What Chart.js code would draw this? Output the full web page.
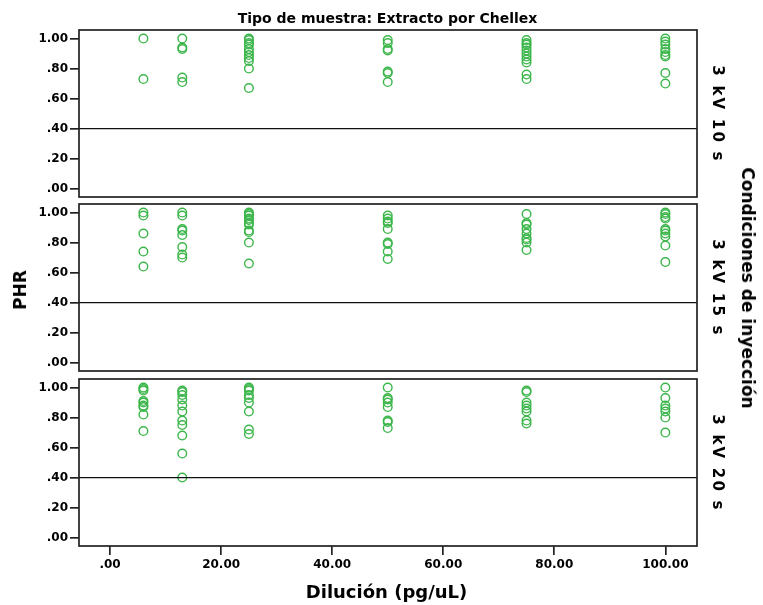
<!DOCTYPE html>
<html>
<head>
<meta charset="utf-8">
<script src="https://cdn.jsdelivr.net/npm/chart.js@4/dist/chart.umd.min.js"></script>
<style>
  html, body { margin: 0; padding: 0; background: #fff; }
  #wrap { position: relative; width: 763px; height: 605px; overflow: hidden; background: #fff; }
  #wrap canvas { position: absolute; left: 0; top: 0; }
  .lbl { position: absolute; font-family: "DejaVu Sans", sans-serif; font-weight: bold; color: #000; white-space: nowrap; transform-origin: center center; }
</style>
</head>
<body>
<div id="wrap">
  <canvas id="c1" width="763" height="605" style="width:763px;height:605px"></canvas>
  <canvas id="c2" width="763" height="605" style="width:763px;height:605px"></canvas>
  <canvas id="c3" width="763" height="605" style="width:763px;height:605px"></canvas>
  <div class="lbl" id="title" style="font-size:14px;left:387.5px;top:18px;transform:translate(-50%,-50%);">Tipo de muestra: Extracto por Chellex</div>
  <div class="lbl" id="ylab" style="font-size:17px;left:20px;top:290px;transform:translate(-50%,-50%) rotate(-90deg);">PHR</div>
  <div class="lbl" id="xlab" style="font-size:18px;left:386.5px;top:591px;transform:translate(-50%,-50%);">Dilución (pg/uL)</div>
  <div class="lbl" id="facet" style="font-size:17px;left:748px;top:288px;transform:translate(-50%,-50%) rotate(90deg);">Condiciones de inyección</div>
  <div class="lbl" id="s1" style="font-size:15px;letter-spacing:2.2px;left:718px;top:114px;transform:translate(-50%,-50%) rotate(90deg);">3 kV 10 s</div>
  <div class="lbl" id="s2" style="font-size:15px;letter-spacing:2.2px;left:718px;top:288px;transform:translate(-50%,-50%) rotate(90deg);">3 kV 15 s</div>
  <div class="lbl" id="s3" style="font-size:15px;letter-spacing:2.2px;left:718px;top:463px;transform:translate(-50%,-50%) rotate(90deg);">3 kV 20 s</div>
</div>
<script>
// ---- Data ----
const dilutions = [6, 13, 25, 50, 75, 100];
const panelLabels = ["3 kV 10 s", "3 kV 15 s", "3 kV 20 s"];

// PHR values per dilution (same order as dilutions)
const phr10s = [
  [1.00, 0.73],
  [1.00, 0.94, 0.93, 0.74, 0.71],
  [1.00, 0.99, 0.97, 0.96, 0.93, 0.91, 0.89, 0.87, 0.85, 0.80, 0.67],
  [0.99, 0.97, 0.93, 0.92, 0.78, 0.77, 0.71],
  [0.99, 0.97, 0.96, 0.94, 0.92, 0.90, 0.88, 0.86, 0.84, 0.76, 0.73],
  [1.00, 0.98, 0.96, 0.93, 0.91, 0.89, 0.88, 0.77, 0.70]
];
const phr15s = [
  [1.00, 0.98, 0.86, 0.74, 0.64],
  [1.00, 0.98, 0.89, 0.88, 0.85, 0.77, 0.72, 0.70],
  [1.00, 0.99, 0.98, 0.96, 0.95, 0.93, 0.92, 0.88, 0.87, 0.80, 0.66],
  [0.98, 0.96, 0.94, 0.93, 0.89, 0.80, 0.79, 0.74, 0.69],
  [0.99, 0.93, 0.92, 0.89, 0.86, 0.83, 0.82, 0.80, 0.75],
  [1.00, 0.99, 0.97, 0.96, 0.89, 0.88, 0.86, 0.84, 0.78, 0.67]
];
const phr20s = [
  [1.00, 0.99, 0.98, 0.91, 0.90, 0.88, 0.87, 0.82, 0.71],
  [0.98, 0.97, 0.95, 0.92, 0.88, 0.84, 0.78, 0.75, 0.68, 0.56, 0.40],
  [1.00, 0.99, 0.98, 0.95, 0.93, 0.90, 0.84, 0.72, 0.69],
  [1.00, 0.93, 0.92, 0.90, 0.87, 0.78, 0.77, 0.73],
  [0.98, 0.97, 0.90, 0.88, 0.86, 0.84, 0.78, 0.76],
  [1.00, 0.93, 0.88, 0.86, 0.84, 0.80, 0.70]
];

const xTickValues = [0, 20, 40, 60, 80, 100];
const yTickValues = [0, 0.2, 0.4, 0.6, 0.8, 1.0];
const referenceLine = 0.40;

// ---- Layout / style ----
const W = 763, H = 605;
const plotLeft = 79, plotRight = 697;
const panels = [
  { id: "c1", values: phr10s, top: 30, bottom: 197, showX: false },
  { id: "c2", values: phr15s, top: 204, bottom: 371, showX: false },
  { id: "c3", values: phr20s, top: 379, bottom: 546, showX: true }
];
const green = "#3cb64b";
const axisColor = "#222";
const tickFont = { family: "DejaVu Sans", size: 12, weight: "bold" };

function fmt(v) {
  const s = Number(v).toFixed(2);
  return s.startsWith("0.") ? s.slice(1) : s;
}

const framePlugin = {
  id: "frame",
  afterDatasetsDraw(chart) {
    const { ctx, chartArea: a, scales } = chart;
    ctx.save();
    const yRef = scales.y.getPixelForValue(referenceLine);
    ctx.strokeStyle = "#111";
    ctx.lineWidth = 1.3;
    ctx.beginPath();
    ctx.moveTo(a.left, yRef);
    ctx.lineTo(a.right, yRef);
    ctx.stroke();
    ctx.strokeStyle = axisColor;
    ctx.lineWidth = 1.7;
    ctx.strokeRect(a.left, a.top, a.right - a.left, a.bottom - a.top);
    ctx.restore();
  }
};

panels.forEach(p => {
  const points = [];
  dilutions.forEach((d, i) => {
    p.values[i].forEach(v => points.push({ x: d, y: v }));
  });
  new Chart(document.getElementById(p.id), {
    type: "scatter",
    data: {
      datasets: [{
        data: points,
        pointStyle: "circle",
        pointRadius: 4.3,
        pointBorderWidth: 1.4,
        borderColor: green,
        pointBorderColor: green,
        backgroundColor: "rgba(0,0,0,0)",
        pointBackgroundColor: "rgba(0,0,0,0)"
      }]
    },
    options: {
      responsive: false,
      animation: false,
      events: [],
      layout: {
        padding: {
          left: 0,
          right: W - plotRight,
          top: p.top,
          bottom: p.showX ? 0 : H - p.bottom
        }
      },
      plugins: { legend: { display: false }, tooltip: { enabled: false }, title: { display: false } },
      scales: {
        x: {
          type: "linear",
          display: p.showX,
          min: -5.6,
          max: 105.7,
          afterBuildTicks: s => { s.ticks = xTickValues.map(v => ({ value: v })); },
          afterFit: s => { s.height = p.showX ? H - p.bottom : 0; },
          border: { display: false },
          grid: { drawOnChartArea: false, drawTicks: true, tickLength: 9, color: axisColor, lineWidth: 1.7 },
          ticks: { font: tickFont, color: "#000", padding: 3, maxRotation: 0, autoSkip: false, callback: v => fmt(v) }
        },
        y: {
          type: "linear",
          min: -0.056,
          max: 1.057,
          afterBuildTicks: s => { s.ticks = yTickValues.map(v => ({ value: v })); },
          afterFit: s => { s.width = plotLeft; },
          border: { display: false },
          grid: { drawOnChartArea: false, drawTicks: true, tickLength: 9, color: axisColor, lineWidth: 1.7 },
          ticks: { font: tickFont, color: "#000", padding: 2, autoSkip: false, callback: v => fmt(v) }
        }
      }
    },
    plugins: [framePlugin]
  });
});
</script>
</body>
</html>
